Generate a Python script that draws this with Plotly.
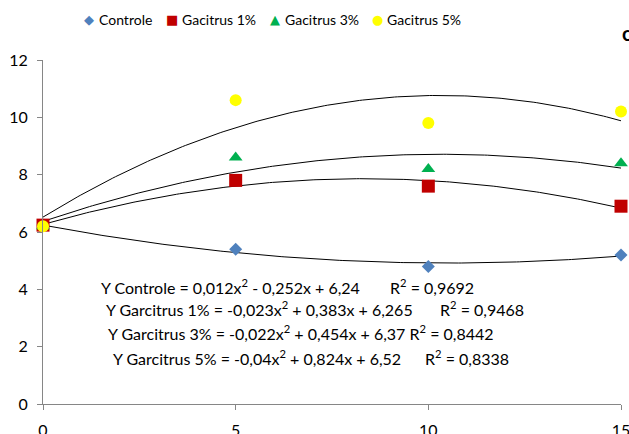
import numpy as np
import plotly.graph_objects as go

# ---- data ----
x_days = [0, 5, 10, 15]
controle = [6.24, 5.4, 4.8, 5.2]
gac1 = [6.24, 7.8, 7.6, 6.9]
gac3 = [6.2, 8.6, 8.2, 8.4]
gac5 = [6.2, 10.6, 9.8, 10.2]

# trendline coefficients (a, b, c) for y = a x^2 + b x + c, as printed on the chart
coef_controle = [0.012, -0.252, 6.24]
coef_gac1 = [-0.023, 0.383, 6.265]
coef_gac3 = [-0.022, 0.454, 6.37]
coef_gac5 = [-0.04, 0.824, 6.52]

series_names = ["Controle", "Gacitrus 1%", "Gacitrus 3%", "Gacitrus 5%"]

eq_texts = [
    "Y Controle = 0,012x<sup>2</sup> - 0,252x + 6,24",
    "Y Garcitrus 1% = -0,023x<sup>2</sup> + 0,383x + 6,265",
    "Y Garcitrus 3% = -0,022x<sup>2</sup> + 0,454x + 6,37 R<sup>2</sup> = 0,8442",
    "Y Garcitrus 5% = -0,04x<sup>2</sup> + 0,824x + 6,52",
]
r2_texts = ["R<sup>2</sup> = 0,9692", "R<sup>2</sup> = 0,9468", None, "R<sup>2</sup> = 0,8338"]

x_ticks = [0, 5, 10, 15]
y_ticks = [0, 2, 4, 6, 8, 10, 12]

W, H = 629, 434
L, R, T, B = 43, 8, 60, 30
PW, PH = W - L - R, H - T - B

def px(x):
    return (x - L) / PW

def py(y):
    return (H - B - y) / PH

FONT = "Lato, Carlito, Calibri, sans-serif"

fig = go.Figure()

xs = np.linspace(0, 15, 200)
for coef in [coef_controle, coef_gac1, coef_gac3, coef_gac5]:
    fig.add_trace(go.Scatter(x=xs, y=np.polyval(coef, xs), mode="lines",
                             line=dict(color="#000000", width=1),
                             showlegend=False, hoverinfo="skip", cliponaxis=False))

symbols = ["diamond", "square", "triangle-up", "circle"]
colors = ["#4F81BD", "#C00000", "#00B050", "#FFFF00"]
sizes = [10, 13, 12, 12]
glyphs = ["\u25C6", "\u25A0", "\u25B2", "\u25CF"]
for name, vals, sym, col, sz in zip(series_names, [controle, gac1, gac3, gac5], symbols, colors, sizes):
    fig.add_trace(go.Scatter(x=x_days, y=vals, mode="markers", name=name, showlegend=False,
                             cliponaxis=False,
                             marker=dict(symbol=sym, color=col, size=sz, line=dict(width=0))))

# legend built from text (symbol glyph + name)
leg_sym_x = [89, 172, 275, 377]
leg_txt_x = [97, 180, 283, 385]
leg_y = 19
for i, name in enumerate(series_names):
    fig.add_annotation(x=px(leg_sym_x[i]), y=py(leg_y), xref="paper", yref="paper",
                       text=glyphs[i], showarrow=False, xanchor="center", yanchor="middle",
                       font=dict(family="DejaVu Sans", size=13, color=colors[i]))
    fig.add_annotation(x=px(leg_txt_x[i]), y=py(leg_y), xref="paper", yref="paper",
                       text=name, showarrow=False, xanchor="left", yanchor="middle",
                       font=dict(family=FONT, size=14, color="#000000"))

eq_pos = [(99, 286), (104, 308), (106, 332), (111, 357)]
r2_pos = [388, 438, None, 423]
for i, t in enumerate(eq_texts):
    fig.add_annotation(x=px(eq_pos[i][0]), y=py(eq_pos[i][1]), xref="paper", yref="paper",
                       text=t, showarrow=False, xanchor="left", yanchor="middle",
                       font=dict(family=FONT, size=16, color="#000000"))
    if r2_texts[i]:
        fig.add_annotation(x=px(r2_pos[i]), y=py(eq_pos[i][1]), xref="paper", yref="paper",
                           text=r2_texts[i], showarrow=False, xanchor="left", yanchor="middle",
                           font=dict(family=FONT, size=16, color="#000000"))

fig.add_annotation(x=px(620), y=py(33), xref="paper", yref="paper", text="<b>c</b>",
                   showarrow=False, xanchor="left", yanchor="middle",
                   font=dict(family=FONT, size=20, color="#000000"))

fig.update_layout(
    width=W, height=H,
    margin=dict(l=L, r=R, t=T, b=B, autoexpand=False),
    paper_bgcolor="white", plot_bgcolor="white",
    font=dict(family=FONT, size=16, color="#000000"),
    showlegend=False,
    xaxis=dict(range=[0, 15], tickvals=x_ticks, showgrid=False, zeroline=False,
               showline=True, linecolor="#868686", linewidth=1, automargin=False,
               ticks="outside", ticklen=5, tickcolor="#868686", ticklabelstandoff=7,
               ticklabeloverflow="allow",
               tickfont=dict(family=FONT, size=16, color="#000000")),
    yaxis=dict(range=[0, 12], tickvals=y_ticks, showgrid=False, zeroline=False,
               showline=True, linecolor="#868686", linewidth=1, automargin=False,
               ticks="outside", ticklen=5, tickcolor="#868686", ticklabelstandoff=6,
               ticklabeloverflow="allow",
               tickfont=dict(family=FONT, size=16, color="#000000")),
)

fig.write_html("out.html", config={"displayModeBar": False},
               post_script="document.body.style.margin='0px';document.body.style.overflow='hidden';")
